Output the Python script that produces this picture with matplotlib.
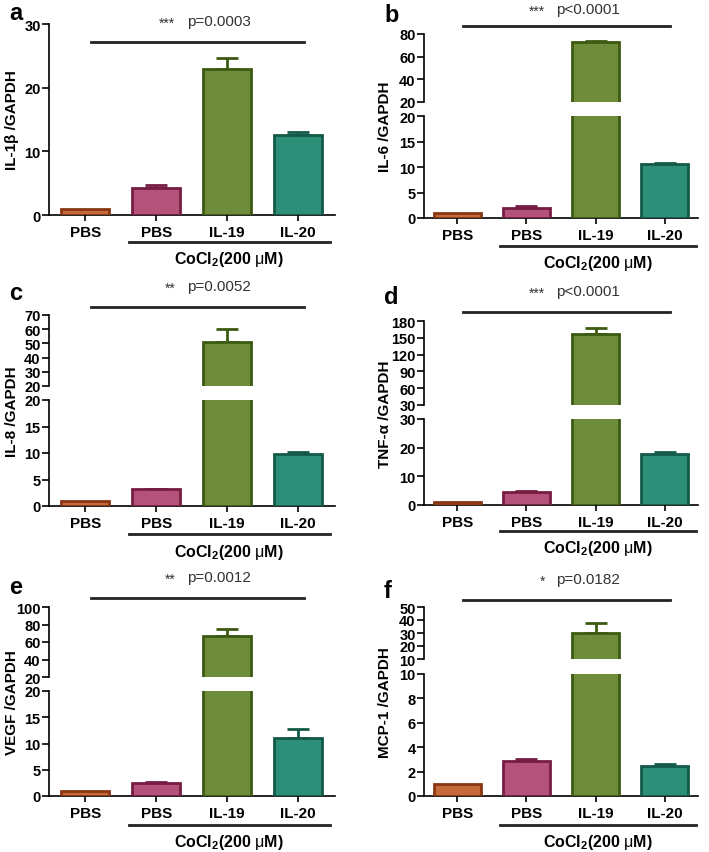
import matplotlib
matplotlib.use('Agg')
import matplotlib.pyplot as plt
from matplotlib.transforms import blended_transform_factory

plt.rcParams['font.family'] = ['Liberation Sans', 'DejaVu Sans']
plt.rcParams['mathtext.fontset'] = 'custom'
plt.rcParams['mathtext.rm'] = 'Liberation Sans'
plt.rcParams['mathtext.bf'] = 'Liberation Sans:bold'

W, H = 709, 853

categories = ['PBS', 'PBS', 'IL-19', 'IL-20']
fill_colors = ['#c66a3c', '#b4527a', '#6f8c3a', '#2e8f78']
edge_colors = ['#8a3612', '#761d44', '#3c5a12', '#145a48']

# means and upper error (SEM)
il1b_mean = [1.0, 4.2, 22.9, 12.6]
il1b_err = [0.0, 0.5, 1.7, 0.5]
il6_mean = [1.0, 2.0, 72.7, 10.6]
il6_err = [0.0, 0.3, 1.4, 0.25]
il8_mean = [1.0, 3.2, 50.8, 9.8]
il8_err = [0.0, 0.1, 9.3, 0.4]
tnf_mean = [1.0, 4.5, 157.0, 17.8]
tnf_err = [0.0, 0.5, 10.5, 0.7]
vegf_mean = [1.0, 2.4, 67.0, 11.0]
vegf_err = [0.0, 0.35, 8.0, 1.8]
mcp1_mean = [1.0, 2.9, 30.0, 2.5]
mcp1_err = [0.0, 0.15, 7.7, 0.12]

ylabels = ['IL-1\u03b2 /GAPDH', 'IL-6 /GAPDH', 'IL-8 /GAPDH',
           'TNF-\u03b1 /GAPDH', 'VEGF /GAPDH', 'MCP-1 /GAPDH']
stars = ['***', '***', '**', '***', '**', '*']
pvals = ['p=0.0003', 'p<0.0001', 'p=0.0052', 'p<0.0001', 'p=0.0012', 'p=0.0182']
letters = ['a', 'b', 'c', 'd', 'e', 'f']

fig = plt.figure(figsize=(W / 100, H / 100), dpi=100)


def box(x0, x1, ytop, ybot):
    return [x0 / W, 1 - ybot / H, (x1 - x0) / W, (ybot - ytop) / H]


def style(ax, ticks, lim, bottom=True):
    for s in ['top', 'right']:
        ax.spines[s].set_visible(False)
    ax.spines['left'].set_linewidth(1.2)
    ax.spines['bottom'].set_linewidth(1.2)
    ax.set_ylim(lim)
    ax.set_yticks(ticks)
    ax.set_yticklabels([str(t) for t in ticks], fontsize=10.5, fontweight='bold')
    ax.tick_params(axis='y', length=5, width=1.2, pad=1)
    ax.spines['left'].set_bounds(lim[0], lim[1])
    if bottom:
        ax.set_xticks(range(4))
        ax.set_xticklabels(categories, fontsize=11, fontweight='bold')
        ax.tick_params(axis='x', length=4, width=1.2, pad=3)
    else:
        ax.spines['bottom'].set_visible(False)
        ax.set_xticks([])


def draw_bars(ax, mean, err):
    ax.bar(range(4), mean, width=0.68, color=fill_colors, edgecolor=edge_colors,
           linewidth=2, zorder=3)
    for i in range(4):
        if err[i] > 0:
            ax.errorbar(i, mean[i], yerr=[[0], [err[i]]], fmt='none',
                        ecolor=edge_colors[i], elinewidth=2, capsize=8,
                        capthick=2, zorder=2)


def panel(i, x0, x1, mean, err, lower, upper, sig_y, co_y, lab_x, lab_y, xlim):
    ytop, ybot, lim, ticks = lower
    ax = fig.add_axes(box(x0, x1, ytop, ybot))
    draw_bars(ax, mean, err)
    style(ax, ticks, lim)
    ax.set_xlim(xlim)
    ymid = (ytop + ybot) / 2
    if upper is not None:
        utop, ubot, ulim, uticks = upper
        ax2 = fig.add_axes(box(x0, x1, utop, ubot))
        draw_bars(ax2, mean, err)
        style(ax2, uticks, ulim, bottom=False)
        ax2.set_xlim(xlim)
        ax2.patch.set_alpha(0)
        ymid = (utop + ybot) / 2
    tr = blended_transform_factory(ax.transData, fig.transFigure)
    # significance line and text
    ax.plot([0.08, 3.08], [1 - sig_y / H] * 2, color='#222222', lw=2,
            transform=tr, clip_on=False)
    ty = max(sig_y - 21, 10)
    ax.text(1.27, 1 - (ty + 2) / H, stars[i], transform=tr, fontsize=10,
            ha='right', va='center', color='#333333')
    ax.text(1.43, 1 - ty / H, pvals[i], transform=tr, fontsize=11,
            ha='left', va='center', color='#333333')
    # CoCl2 group line and label
    ax.plot([0.62, 3.45], [1 - co_y / H] * 2, color='#222222', lw=2,
            transform=tr, clip_on=False)
    ax.text(2.03, 1 - (co_y + 17) / H, r'CoCl$_\mathbf{2}$(200 $\mathrm{\mu}$M)',
            transform=tr, fontsize=11.5, fontweight='bold', ha='center', va='center')
    fig.text(lab_x / W, 1 - ymid / H, ylabels[i], rotation=90, fontsize=11,
             fontweight='bold', ha='center', va='center')
    fig.text((x0 - 40) / W, 1 - lab_y / H, letters[i], fontsize=17,
             fontweight='bold', ha='left', va='center')


LX = (49, 335)
RX = (424, 698)
lxlim = (-0.51, 3.52)
rxlim = (-0.48, 3.48)

panel(0, *LX, il1b_mean, il1b_err, (25, 216, (0, 30), [0, 10, 20, 30]), None,
      43, 243, 12, 14, lxlim)
panel(1, *RX, il6_mean, il6_err, (117, 219, (0, 20), [0, 5, 10, 15, 20]),
      (35, 103, (20, 80), [20, 40, 60, 80]), 27, 247, 385, 16, rxlim)
panel(2, *LX, il8_mean, il8_err, (401, 507, (0, 20), [0, 5, 10, 15, 20]),
      (316, 387, (20, 70), [20, 30, 40, 50, 60, 70]), 308, 535, 12, 293, lxlim)
panel(3, *RX, tnf_mean, tnf_err, (420, 506, (0, 30), [0, 10, 20, 30]),
      (322, 406, (30, 180), [30, 60, 90, 120, 150, 180]), 313, 532, 385, 298, rxlim)
panel(4, *LX, vegf_mean, vegf_err, (692, 797, (0, 20), [0, 5, 10, 15, 20]),
      (608, 678, (20, 100), [20, 40, 60, 80, 100]), 599, 826, 12, 588, lxlim)
panel(5, *RX, mcp1_mean, mcp1_err, (675, 797, (0, 10), [0, 2, 4, 6, 8, 10]),
      (608, 660, (10, 50), [10, 20, 30, 40, 50]), 601, 826, 385, 592, rxlim)

fig.savefig('out.png', dpi=100)
